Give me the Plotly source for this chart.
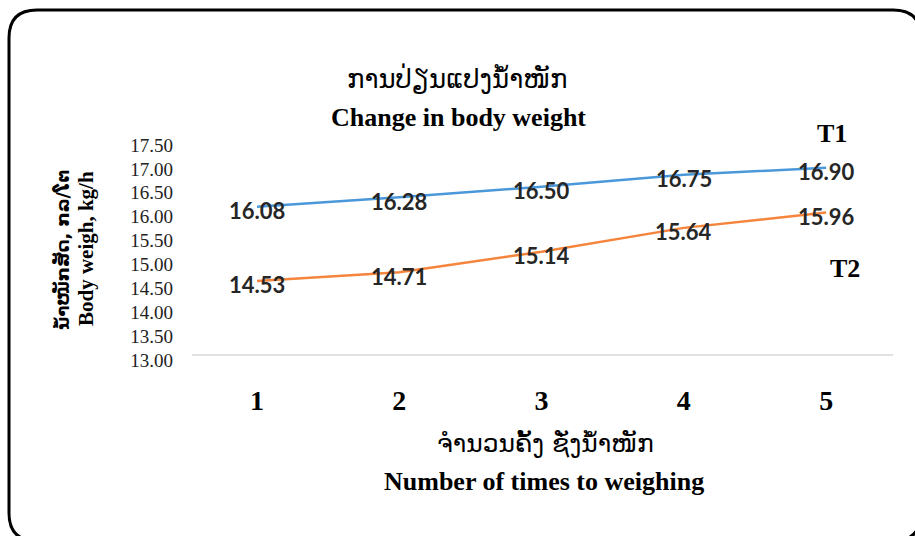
import plotly.graph_objects as go

# ---- data ----
weighings = [1, 2, 3, 4, 5]
t1_values = [16.08, 16.28, 16.50, 16.75, 16.90]
t2_values = [14.53, 14.71, 15.14, 15.64, 15.96]
y_ticks = [13.0, 13.5, 14.0, 14.5, 15.0, 15.5, 16.0, 16.5, 17.0, 17.5]
y_tick_text = ["%.2f" % v for v in y_ticks]
x_tick_text = ["1", "2", "3", "4", "5"]

W, H = 915, 536
L, R, T, B = 192, 22, 139, 182
PW, PH = W - L - R, H - T - B


def px(x):
    return (x - L) / PW


def py(y):
    return (H - B - y) / PH


SERIF = "Liberation Serif, Times New Roman, serif"
LAO = "DejaVu Sans, Noto Sans, sans-serif"
LBL = "Lato, Carlito, sans-serif"

fig = go.Figure()
for vals, color, name in [(t1_values, "#4A98DA", "T1"), (t2_values, "#F5853C", "T2")]:
    fig.add_trace(go.Scatter(x=weighings, y=vals, mode="lines",
                             line=dict(color=color, width=2.5),
                             name=name, showlegend=False, cliponaxis=False))
    for xv, yv in zip(weighings, vals):
        fig.add_annotation(x=xv, y=yv, xref="x", yref="y", text="<b>%.2f</b>" % yv,
                           showarrow=False, xanchor="center", yanchor="middle", yshift=-4,
                           font=dict(family=LBL, size=22, color="#262626"))

# rounded border (pixels -> paper)
x0, x1, y0, y1, r = 9, 921, 10, 541, 28
pts = [
    ("M", [(x0 + r, y0)]), ("L", [(x1 - r, y0)]), ("Q", [(x1, y0), (x1, y0 + r)]),
    ("L", [(x1, y1 - r)]), ("Q", [(x1, y1), (x1 - r, y1)]),
    ("L", [(x0 + r, y1)]), ("Q", [(x0, y1), (x0, y1 - r)]),
    ("L", [(x0, y0 + r)]), ("Q", [(x0, y0), (x0 + r, y0)]),
]
path = " ".join(c + " " + " ".join("%.5f,%.5f" % (px(a), py(b)) for a, b in p) for c, p in pts) + " Z"
fig.add_shape(type="path", path=path, xref="paper", yref="paper",
              line=dict(color="black", width=3), layer="above")

ann = [
    dict(text="ການປ່ຽນແປງນ້ຳໜັກ", x=px(457), y=py(79), font=dict(family=LAO, size=26, color="black")),
    dict(text="<b>Change in body weight</b>", x=px(458), y=py(117), font=dict(family=SERIF, size=26, color="black")),
    dict(text="<b>ນ້ຳໜັກສັດ, ກລ/ໂຕ</b>", x=px(62), y=py(250), textangle=-90, font=dict(family=LAO, size=18, color="black")),
    dict(text="<b>Body weigh, kg/h</b>", x=px(86), y=py(248), textangle=-90, font=dict(family=SERIF, size=21, color="black")),
    dict(text="ຈຳນວນຄັ້ງ ຊັ່ງນ້ຳໜັກ", x=px(545), y=py(443), font=dict(family=LAO, size=25, color="black")),
    dict(text="<b>Number of times to weighing</b>", x=px(544), y=py(481), font=dict(family=SERIF, size=26, color="black")),
    dict(text="<b>T1</b>", x=px(832), y=py(133), font=dict(family=SERIF, size=26, color="black")),
    dict(text="<b>T2</b>", x=px(845), y=py(268), font=dict(family=SERIF, size=26, color="black")),
]
for a in ann:
    a.update(xref="paper", yref="paper", showarrow=False, xanchor="center", yanchor="middle")
    fig.add_annotation(**a)

fig.update_layout(
    width=W, height=H, margin=dict(l=L, r=R, t=T, b=B),
    paper_bgcolor="white", plot_bgcolor="white",
    xaxis=dict(range=[0.543, 5.47], tickvals=weighings, ticktext=["<b>%s</b>" % t for t in x_tick_text],
               showgrid=False, zeroline=False, showline=True, linecolor="#e2e2e2", linewidth=2,
               ticks="", ticklabelstandoff=20,
               tickfont=dict(family=SERIF, size=28, color="black")),
    yaxis=dict(range=[13, 17.5], tickvals=y_ticks, ticktext=y_tick_text,
               showgrid=False, zeroline=False, showline=False, ticks="",
               ticklabelstandoff=18, ticklabelshift=6,
               tickfont=dict(family=SERIF, size=19, color="#222222")),
)

fig.write_html("out.html", config={"displayModeBar": False},
               post_script="document.body.style.margin='0';document.body.style.overflow='hidden';")
